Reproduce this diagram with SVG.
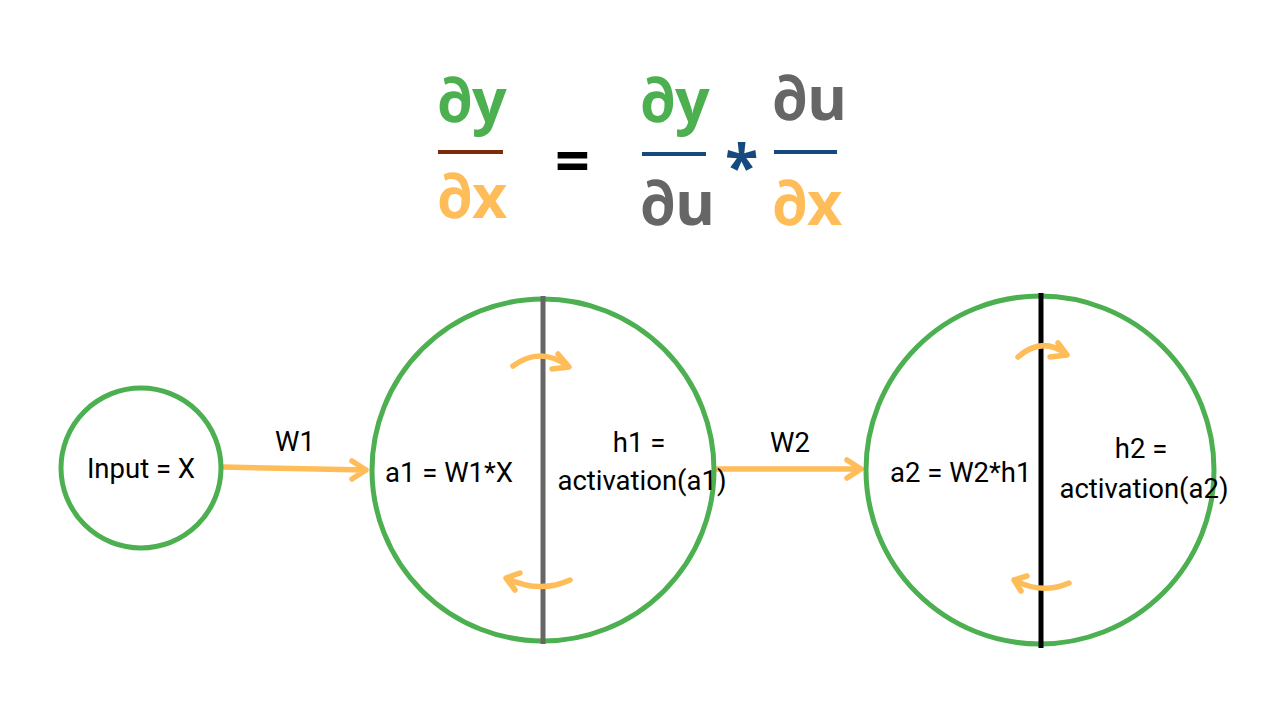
<svg xmlns="http://www.w3.org/2000/svg" width="1280" height="720" viewBox="0 0 1280 720">
<style>
.node{fill:#fff;stroke:#4caf50;stroke-width:5}
.lbl{font-family:Roboto,"Liberation Sans",sans-serif;font-size:27.5px;fill:#000}
.eq{font-family:"Open Sans","Liberation Sans",sans-serif;font-weight:700;font-size:61px}
.d{font-family:Roboto,sans-serif}
.conn{fill:none;stroke:#ffbd59;stroke-width:5.5;stroke-linecap:round;stroke-linejoin:round}
.g{fill:#4caf50}.o{fill:#ffbd59}.gr{fill:#666}
</style>
<rect width="1280" height="720" fill="#fff"/>
<g id="equation">
<text class="eq g" x="437" y="122"><tspan class="d">∂</tspan>y</text>
<line x1="438" y1="152" x2="503" y2="152" stroke="#7b2d0b" stroke-width="4"/>
<text class="eq o" x="437" y="218"><tspan class="d">∂</tspan>x</text>
<text class="eq" x="555" y="182" fill="#000">=</text>
<text class="eq g" x="640" y="122"><tspan class="d">∂</tspan>y</text>
<line x1="642" y1="154" x2="706" y2="154" stroke="#164a7e" stroke-width="4"/>
<text class="eq gr" x="640" y="225"><tspan class="d">∂</tspan>u</text>
<text class="eq" x="725" y="188" fill="#164a7e">*</text>
<text class="eq gr" x="772" y="120"><tspan class="d">∂</tspan>u</text>
<line x1="774" y1="152" x2="837" y2="152" stroke="#164a7e" stroke-width="4"/>
<text class="eq o" x="772" y="225"><tspan class="d">∂</tspan>x</text>
</g>
<g id="connectors">
<path class="conn" d="M222 467 L366 470 M352 461 L366 470 L352 479"/>
<path class="conn" d="M717 469 L861 469 M847 460 L861 469 L847 478"/>
</g>
<g id="input">
<circle class="node" cx="141" cy="468" r="80"/>
<text class="lbl" x="141" y="478" text-anchor="middle">Input = X</text>
</g>
<g id="hidden1">
<circle class="node" cx="543" cy="470" r="171"/>
<line x1="543" y1="296" x2="543" y2="644" stroke="#666" stroke-width="5"/>
<path class="conn" d="M513 366 Q540 346 568 366 M558 354 L569 367 L552 369"/>
<path class="conn" d="M570 580 Q540 594 506 578 M520 573 L506 578 L515 590"/>
<text class="lbl" x="385" y="482">a1 = W1*X</text>
<text class="lbl" x="639" y="452" text-anchor="middle">h1 =</text>
<text class="lbl" x="642" y="490" text-anchor="middle">activation(a1)</text>
<text class="lbl" x="295" y="451" text-anchor="middle">W1</text>
</g>
<g id="hidden2">
<circle class="node" cx="1040" cy="470" r="174"/>
<line x1="1041" y1="293" x2="1041" y2="648" stroke="#000" stroke-width="5"/>
<path class="conn" d="M1018 357 Q1042 336 1066 354 M1058 343 L1067 355 L1050 357"/>
<path class="conn" d="M1069 583 Q1042 595 1014 580 M1027 576 L1014 580 L1021 591"/>
<text class="lbl" x="890" y="482">a2 = W2*h1</text>
<text class="lbl" x="1141" y="458" text-anchor="middle">h2 =</text>
<text class="lbl" x="1144" y="498" text-anchor="middle">activation(a2)</text>
<text class="lbl" x="790" y="452" text-anchor="middle">W2</text>
</g>
</svg>
